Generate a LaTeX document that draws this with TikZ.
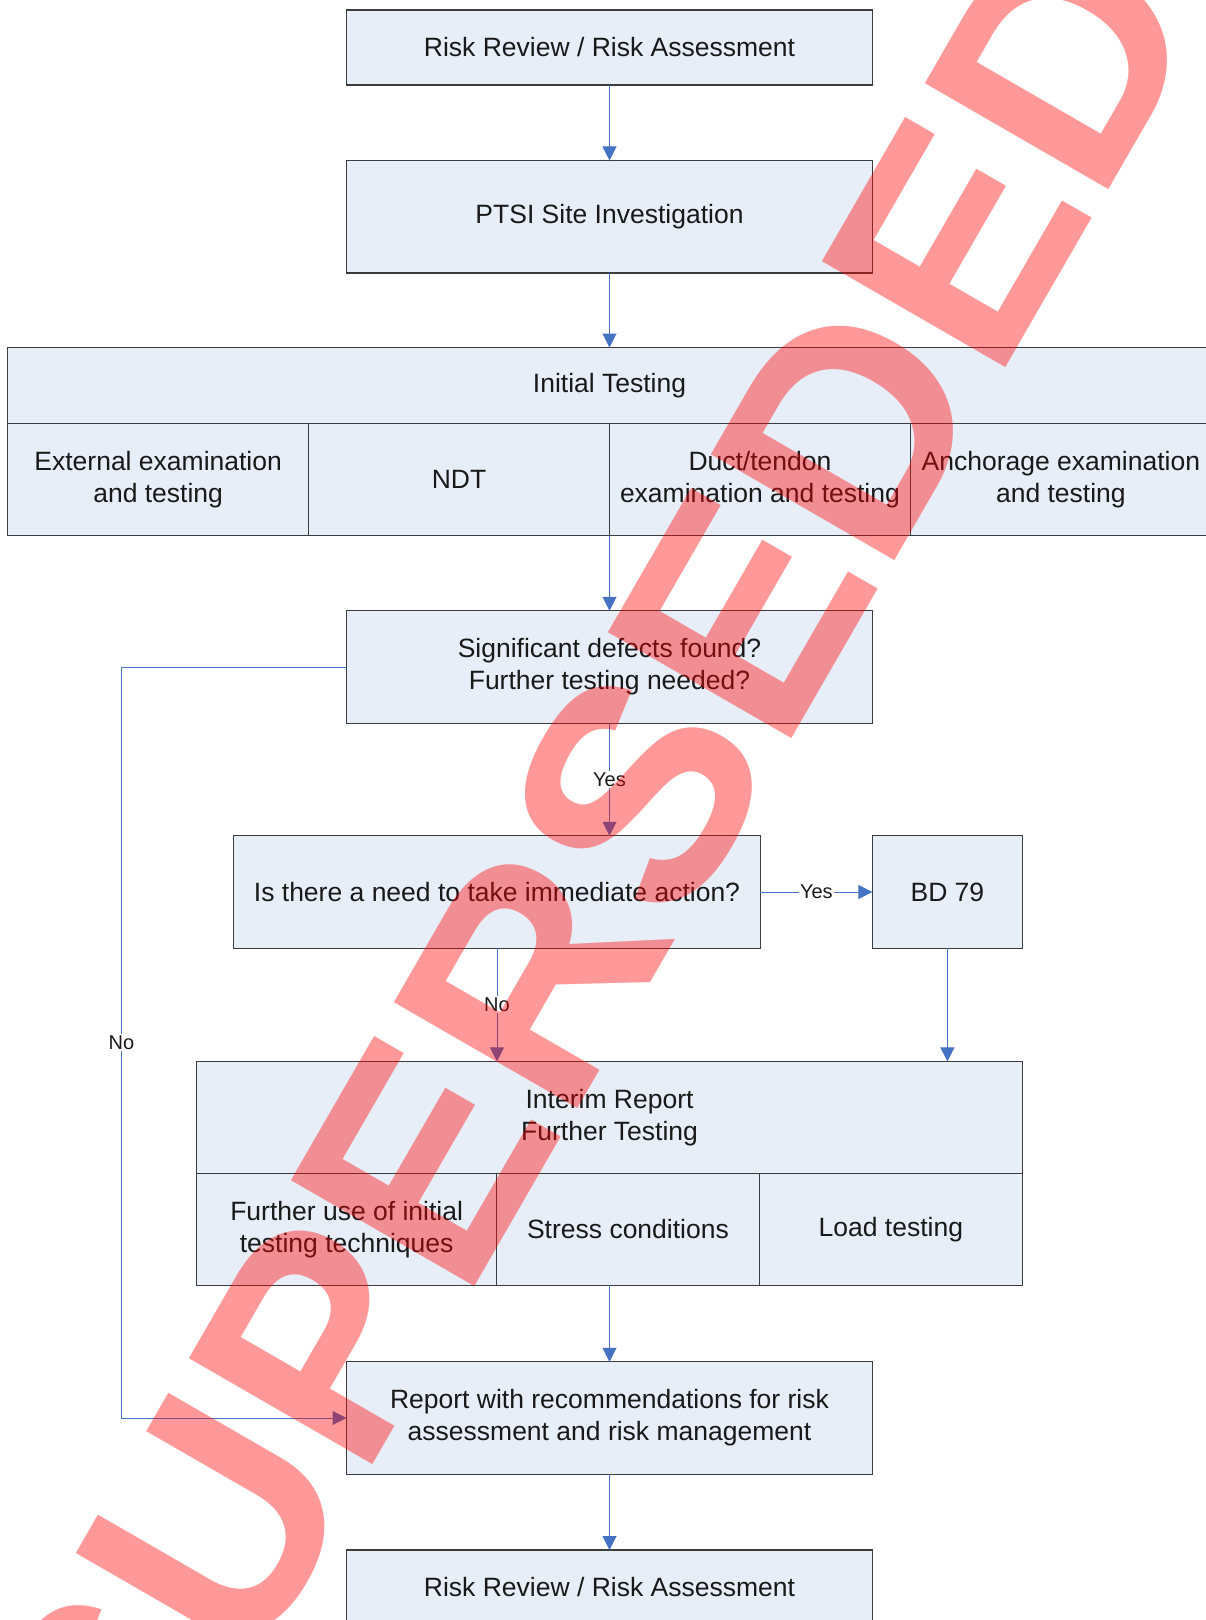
\documentclass[tikz,border=0pt]{standalone}
\usepackage{fontspec}
\setmainfont{Liberation Sans}
\usepackage{color}
\usetikzlibrary{positioning,arrows.meta}

\definecolor{boxfill}{RGB}{232,238,247}
\definecolor{boxline}{RGB}{60,60,60}
\definecolor{flowblue}{RGB}{70,114,196}

\tikzset{
  box/.style={draw=boxline, line width=1.2pt, fill=boxfill, minimum width=526pt,
    minimum height=112.5pt, align=center, inner sep=0pt, outer sep=0pt,
    text=black!90, font=\fontsize{26.5}{32}\selectfont},
  cell/.style={box, line width=0.9pt, minimum width=300.9pt},
  flow/.style={draw=flowblue, line width=1pt, -{Triangle[length=14pt,width=14pt]}},
  lbl/.style={fill=white, inner sep=1.5pt, text=black!90, font=\fontsize{20}{24}\selectfont},
}

\begin{document}
\begin{tikzpicture}[x=1pt,y=-1pt]
  \useasboundingbox (0,0) rectangle (1205,1620);

  \node[box, minimum height=75pt] (rrtop) at (609.5,47.5) {Risk Review / Risk Assessment};
  \node[box] (ptsi) at (609.5,216.7) {PTSI Site Investigation};

  \node[box, minimum width=1203.6pt, minimum height=75.7pt] (init) at (609.5,385.35) {Initial Testing};
  \node[cell, anchor=north west] (ext) at (init.south west) {External examination\\and testing};
  \node[cell, right=0pt of ext] (ndt) {NDT};
  \node[cell, right=0pt of ndt] (duct) {Duct/tendon\\examination and testing};
  \node[cell, right=0pt of duct] (anch) {Anchorage examination\\and testing};

  \node[box] (sig) at (609.5,667) {Significant defects found?\\Further testing needed?};
  \node[box, minimum width=526.5pt] (imm) at (497,892) {Is there a need to take immediate action?};
  \node[box, minimum width=150pt] (bd79) at (947.4,892) {BD 79};

  \node[box, minimum width=825.5pt, minimum height=111.9pt] (interim) at (609.55,1117.35) {Interim Report\\Further Testing};
  \node[cell, minimum width=299.7pt, minimum height=112.1pt, anchor=north west] (reuse) at (interim.south west) {Further use of initial\\testing techniques};
  \node[cell, minimum width=262.9pt, minimum height=112.1pt, right=0pt of reuse] (stress) {Stress conditions};
  \node[cell, minimum width=262.9pt, minimum height=112.1pt, right=0pt of stress] (load) {Load testing};

  \node[box] (report) at (609.5,1418) {Report with recommendations for risk\\assessment and risk management};
  \node[box, minimum height=75pt] (rrend) at (609.5,1587.5) {Risk Review / Risk Assessment};

  \coordinate (nobend) at (121.4,667);

  \draw[flow] (rrtop) -- (ptsi);
  \draw[flow] (ptsi) -- (init);
  \draw[flow] (ndt.south east) -- (sig.north);
  \draw[flow] (sig.south) -- node[lbl] {Yes} (sig.south |- imm.north);
  \draw[flow] (imm) -- node[lbl] {Yes} (bd79);
  \draw[flow] (imm.south) -- node[lbl] {No} (imm.south |- interim.north);
  \draw[flow] (bd79.south) -- (bd79.south |- interim.north);
  \draw[flow] (sig.west) -- (nobend) -- node[lbl] {No} (report.west -| nobend) -- (report.west);
  \draw[flow] (report.north |- stress.south) -- (report.north);
  \draw[flow] (report) -- (rrend);

  \node[text=red, text opacity=0.4, rotate=60, inner sep=0pt,
    font=\bfseries\fontsize{308}{308}\selectfont] (stamp) at (587,881) {SUPERSEDED};
\end{tikzpicture}
\end{document}
